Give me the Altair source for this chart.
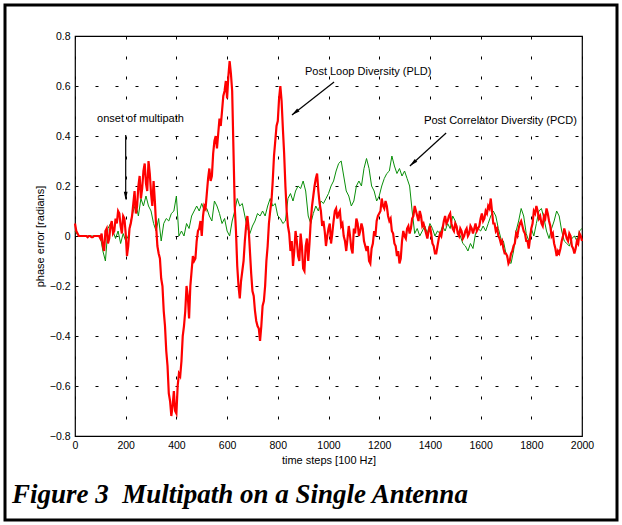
import altair as alt
import pandas as pd

steps = list(range(0, 2001, 10))
mid_steps = list(range(5, 2000, 10))

# Post Loop Diversity (red), values at steps 0,10,...,2000
pld = [0.05, 0.01, 0.0, 0.0, 0.0, -0.005, 0.0, -0.005, 0.0, 0.0,
       -0.01, -0.04, 0.02, -0.03, 0.04, 0.01, 0.07, 0.1, 0.04, 0.08,
       0.01, -0.04, 0.05, 0.13, 0.09, 0.2, 0.15, 0.26, 0.21, 0.3,
       0.17, 0.22, 0.04, -0.07, -0.17, -0.3, -0.46, -0.63, -0.72, -0.62,
       -0.71, -0.55, -0.5, -0.36, -0.2, -0.33, -0.14, -0.1, -0.02, 0.03,
       0.0, 0.12, 0.17, 0.27, 0.24, 0.38, 0.35, 0.47, 0.5, 0.58,
       0.55, 0.7, 0.58, 0.12, -0.12, -0.25, -0.14, -0.02, 0.08, -0.06,
       -0.22, -0.3, -0.36, -0.42, -0.28, -0.2, -0.04, 0.1, 0.22, 0.38,
       0.46, 0.6, 0.43, 0.2, 0.04, -0.06, -0.12, 0.02, -0.08, 0.01,
       -0.13, -0.04, -0.1, 0.06, 0.16, 0.23, 0.18, 0.1, 0.06, -0.04,
       0.03, -0.03, 0.06, 0.11, 0.09, 0.04, 0.0, -0.06, 0.04, -0.05,
       0.03, 0.07, 0.0, 0.05, -0.02, -0.06, -0.1, -0.05, 0.02, 0.06,
       0.09, 0.15, 0.11, 0.12, 0.06, 0.02, -0.03, -0.08, -0.11, -0.02,
       0.0, 0.03, 0.01, 0.07, 0.12, 0.08, 0.1, 0.04, 0.03, -0.01,
       0.04, -0.03, -0.07, -0.04, 0.01, 0.03, 0.08, 0.06, 0.09, 0.03,
       0.05, 0.01, 0.03, -0.01, 0.02, 0.0, 0.04, 0.01, 0.05, 0.03,
       0.07, 0.06, 0.1, 0.12, 0.15, 0.05, 0.02, 0.0, -0.03, -0.05,
       -0.07, -0.11, -0.07, -0.04, 0.01, 0.03, 0.06, 0.02, -0.02, -0.05,
       0.03, 0.1, 0.12, 0.07, 0.05, 0.08, 0.11, 0.06, 0.0, -0.03,
       -0.08, -0.07, -0.02, 0.03, -0.01, 0.01, -0.04, -0.07, -0.02, 0.01,
       -0.02]

# Post Loop Diversity (red), values at steps 5,15,...,1995
pld_mid = [0.02, 0.0, 0.0, 0.0, 0.0, 0.0, -0.005, 0.0, 0.0, 0.0,
           0.01, -0.06, 0.03, -0.01, 0.06, 0.02, 0.05, 0.09, 0.01, 0.07,
           -0.08, 0.03, 0.08, 0.18, 0.12, 0.24, 0.19, 0.29, 0.18, 0.25,
           0.12, 0.14, -0.04, -0.09, -0.2, -0.36, -0.52, -0.66, -0.68, -0.7,
           -0.6, -0.56, -0.4, -0.3, -0.24, -0.2, -0.08, -0.09, 0.02, 0.06,
           0.08, 0.11, 0.23, 0.22, 0.33, 0.4, 0.41, 0.44, 0.56, 0.62,
           0.64, 0.65, 0.35, 0.02, -0.2, -0.18, -0.1, 0.04, 0.03, -0.15,
           -0.24, -0.34, -0.37, -0.36, -0.26, -0.1, 0.05, 0.14, 0.32, 0.44,
           0.55, 0.54, 0.33, 0.1, 0.01, -0.02, -0.06, -0.02, -0.1, -0.04,
           -0.14, -0.01, -0.03, 0.12, 0.2, 0.25, 0.13, 0.04, 0.02, 0.0,
           0.05, 0.01, 0.1, 0.07, 0.1, 0.05, -0.02, -0.01, 0.0, -0.07,
           0.01, 0.05, 0.02, 0.03, -0.04, -0.04, -0.11, -0.03, 0.0, 0.08,
           0.1, 0.12, 0.14, 0.08, 0.07, 0.01, -0.04, -0.06, -0.09, 0.02,
           -0.01, 0.04, 0.03, 0.08, 0.1, 0.06, 0.08, 0.05, 0.01, 0.02,
           0.01, -0.04, -0.07, -0.01, 0.0, 0.06, 0.05, 0.08, 0.05, 0.02,
           0.04, 0.0, 0.02, 0.0, 0.03, 0.01, 0.03, 0.03, 0.02, 0.04,
           0.09, 0.07, 0.09, 0.11, 0.1, 0.05, 0.03, -0.01, -0.02, -0.07,
           -0.08, -0.1, -0.06, -0.03, 0.0, 0.05, 0.04, 0.01, -0.02, -0.01,
           0.05, 0.09, 0.1, 0.08, 0.04, 0.07, 0.09, 0.04, 0.01, -0.05,
           -0.06, -0.05, 0.0, 0.01, -0.02, 0.0, -0.05, -0.05, -0.03, 0.0]

# Post Correlator Diversity (green), values at steps 0,10,...,2000
pcd = [0.02, 0.005, 0.0, 0.0, 0.0, 0.0, 0.0, 0.0, 0.0, 0.0,
       0.0, -0.06, -0.1, 0.03, 0.05, 0.02, -0.01, 0.02, -0.03, 0.01,
       -0.02, 0.0, 0.06, 0.1, 0.13, 0.08, 0.15, 0.12, 0.16, 0.12,
       0.1, 0.05, 0.02, 0.07, -0.02, 0.05, 0.07, 0.06, 0.09, 0.1,
       0.16, 0.0, 0.02, 0.0, 0.05, 0.03, 0.08, 0.1, 0.12, 0.1,
       0.13, 0.1, 0.11, 0.08, 0.06, 0.14, 0.12, 0.09, 0.05, 0.07,
       0.02, 0.0, 0.06, 0.1, 0.15, 0.12, 0.13, 0.08, 0.03, 0.01,
       0.04, 0.06, 0.09, 0.08, 0.1, 0.08, 0.12, 0.15, 0.12, 0.13,
       0.08, 0.07, 0.05, 0.06, 0.15, 0.17, 0.14, 0.18, 0.2, 0.19,
       0.22, 0.18, 0.08, 0.05, 0.09, 0.12, 0.1, 0.14, 0.13, 0.15,
       0.17, 0.2, 0.22, 0.26, 0.29, 0.3, 0.24, 0.18, 0.16, 0.12,
       0.14, 0.2, 0.22, 0.2, 0.27, 0.31, 0.27, 0.2, 0.18, 0.14,
       0.16, 0.2, 0.23, 0.25, 0.26, 0.32, 0.28, 0.25, 0.27, 0.24,
       0.26, 0.23, 0.2, 0.1, 0.01, 0.03, 0.0, 0.02, 0.04, 0.01,
       0.05, 0.03, 0.0, 0.02, 0.01, 0.04, 0.02, 0.05, 0.03, 0.08,
       0.06, 0.02, 0.0, -0.03, -0.04, -0.06, -0.03, -0.05, 0.01, 0.03,
       0.02, 0.04, 0.02, 0.05, 0.08, 0.1, 0.08, 0.03, -0.01, -0.02,
       -0.07, -0.1, -0.11, -0.06, 0.02, 0.06, 0.11, 0.08, 0.01, -0.02,
       0.03, 0.0, 0.05, 0.1, 0.11, 0.07, 0.02, -0.01, 0.03, 0.06,
       0.1, 0.08, 0.02, -0.02, -0.03, -0.04, -0.01, 0.0, -0.02, 0.02,
       0.03]

assert len(pld) == len(steps) and len(pcd) == len(steps) and len(pld_mid) == len(mid_steps)

# annotation data (in data units)
ann_labels = ["onset of multipath", "Post Loop Diversity (PLD)", "Post Correlator Diversity (PCD)"]
ann_x = [87, 907, 1377]
ann_y = [0.468, 0.656, 0.46]

arrow_x = [200, 1022, 1464]
arrow_y = [0.404, 0.616, 0.412]
arrow_x2 = [200, 856, 1321]
arrow_y2 = [0.15, 0.484, 0.28]
head_x = [200, 868, 1333]
head_y = [0.16, 0.494, 0.291]
head_angle = [180, 232, 228]

title_text = "Figure 3\u00a0\u00a0Multipath on a Single Antenna"

df_pld = pd.concat([pd.DataFrame({"step": steps, "value": pld}),
                    pd.DataFrame({"step": mid_steps, "value": pld_mid})]).sort_values("step")
df_pcd = pd.DataFrame({"step": steps, "value": pcd})
df_ann = pd.DataFrame({"x": ann_x, "y": ann_y, "label": ann_labels})
df_arr = pd.DataFrame({"x": arrow_x, "y": arrow_y, "x2": arrow_x2, "y2": arrow_y2})
df_head = pd.DataFrame({"x": head_x, "y": head_y, "angle": head_angle})
df_one = pd.DataFrame({"a": [0]})

xscale = alt.Scale(domain=[0, 2000], nice=False, zero=False)
yscale = alt.Scale(domain=[-0.8, 0.8], nice=False)

xaxis = alt.Axis(values=list(range(0, 2001, 200)), title="time steps [100 Hz]", format="d",
                 grid=True, ticks=False, domain=False, labelPadding=4, titlePadding=4,
                 labelFlush=False)
yaxis = alt.Axis(values=[-0.8, -0.6, -0.4, -0.2, 0, 0.2, 0.4, 0.6, 0.8],
                 title="phase error [radians]", grid=True, ticks=False, domain=False,
                 labelExpr="datum.value == 0 ? '0' : format(datum.value, '.1f')",
                 labelPadding=5, titlePadding=4, labelFlush=False)

green = alt.Chart(df_pcd).mark_line(color="#0a8f0a", strokeWidth=1).encode(
    x=alt.X("step:Q", scale=xscale, axis=xaxis),
    y=alt.Y("value:Q", scale=yscale, axis=yaxis),
)
red = alt.Chart(df_pld).mark_line(color="#ff0000", strokeWidth=2.2).encode(
    x=alt.X("step:Q", scale=xscale),
    y=alt.Y("value:Q", scale=yscale),
)

texts = alt.Chart(df_ann).mark_text(align="left", baseline="middle", fontSize=11,
                                    font="Liberation Sans", color="black").encode(
    x=alt.X("x:Q", scale=xscale), y=alt.Y("y:Q", scale=yscale), text="label:N")

arrows = alt.Chart(df_arr).mark_rule(color="black", strokeWidth=1.2).encode(
    x=alt.X("x:Q", scale=xscale), y=alt.Y("y:Q", scale=yscale),
    x2="x2:Q", y2="y2:Q")

heads = alt.Chart(df_head).mark_point(shape="M0,-1L0.45,1L-0.45,1Z", filled=True,
                                      color="black", opacity=1, size=70).encode(
    x=alt.X("x:Q", scale=xscale), y=alt.Y("y:Q", scale=yscale),
    angle=alt.Angle("angle:Q", scale=None))

frame = alt.Chart(df_one).mark_rect(filled=False, stroke="black", strokeWidth=3).encode(
    x=alt.value(-70), x2=alt.value(542), y=alt.value(-31), y2=alt.value(484))

title = alt.Chart(df_one).mark_text(align="left", baseline="alphabetic", fontSize=27,
                                    font="Liberation Serif", fontWeight="bold",
                                    fontStyle="italic", color="black").encode(
    x=alt.value(-63), y=alt.value(467), text=alt.value(title_text))

chart = alt.layer(green, red, arrows, heads, texts, frame, title).properties(
    width=507, height=400,
    autosize=alt.AutoSizeParams(type="none"),
    padding={"left": 75, "top": 36, "right": 40, "bottom": 89},
    background="white",
).configure_view(stroke="black", strokeWidth=1.2).configure_axis(
    gridColor="black", gridDash=[3, 17], gridOpacity=1, gridWidth=1,
    labelFont="Liberation Sans", labelFontSize=10.5, labelColor="black",
    titleFont="Liberation Sans", titleFontSize=11, titleColor="black", titleFontWeight="normal",
)

chart.save("out.html", embed_options={"renderer": "svg", "actions": False})
